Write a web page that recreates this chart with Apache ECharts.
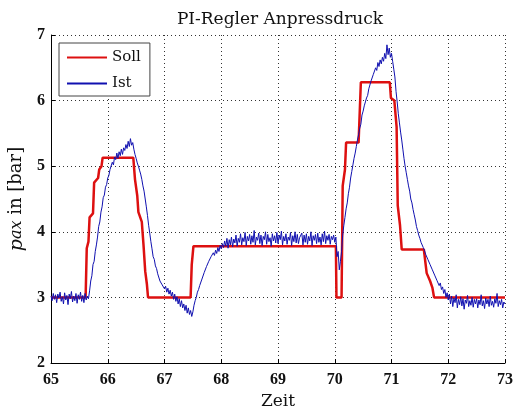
<!DOCTYPE html>
<html>
<head>
<meta charset="utf-8">
<script src="https://cdn.jsdelivr.net/npm/echarts@6/dist/echarts.min.js"></script>
<style>html,body{margin:0;padding:0;background:#fff;}#c{width:514px;height:406px;}</style>
</head>
<body>
<div id="c"></div>
<script>
// Axis ticks
const xTicks = [65, 66, 67, 68, 69, 70, 71, 72, 73];
const yTicks = [2, 3, 4, 5, 6, 7];

// Soll (set point) step curve: times and values
const sollTime = [65, 65.61, 65.63, 65.66, 65.68, 65.74, 65.76, 65.83, 65.85, 65.89, 65.91, 66.45, 66.48, 66.52, 66.54, 66.60, 66.63, 66.66, 66.69, 66.71, 67.46, 67.48, 67.51, 70.02, 70.03, 70.12, 70.14, 70.18, 70.20, 70.42, 70.46, 70.97, 70.99, 71.05, 71.09, 71.11, 71.15, 71.18, 71.57, 71.62, 71.68, 71.72, 71.75, 73];
const sollValue = [3.0, 3.0, 3.75, 3.85, 4.22, 4.28, 4.75, 4.82, 4.95, 5.0, 5.13, 5.13, 4.8, 4.55, 4.3, 4.15, 3.8, 3.4, 3.2, 3.0, 3.0, 3.5, 3.78, 3.78, 3.0, 3.0, 4.7, 4.95, 5.36, 5.36, 6.28, 6.28, 6.04, 6.0, 5.6, 4.4, 4.1, 3.73, 3.73, 3.37, 3.25, 3.15, 3.0, 3.0];

// Ist (measured) samples, every 0.02 s from 65.00 to 73.00
const istStart = 65;
const istStep = 0.02;
const istValue = [
3.02,2.95,3.06,2.97,3.04,2.92,3.05,2.99,3.08,2.94,3.01,2.90,3.07,2.96,3.03,2.89,3.05,2.98,3.09,2.93,3.02,2.95,3.06,2.91,3.04,
2.97,3.08,2.94,3.03,2.92,3.06,2.96,3.02,2.98,3.10,3.25,3.33,3.50,3.55,3.70,3.80,3.92,4.08,4.15,4.30,4.38,4.52,4.56,4.68,4.72,
4.82,4.86,4.95,4.98,5.06,5.02,5.14,5.10,5.20,5.12,5.22,5.16,5.26,5.18,5.28,5.24,5.33,5.27,5.38,5.30,5.42,5.32,5.36,5.26,5.18,
5.12,5.05,5.00,4.94,4.88,4.80,4.70,4.62,4.50,4.38,4.25,4.10,3.98,3.85,3.74,3.62,3.58,3.48,3.44,3.36,3.33,3.25,3.27,3.19,3.20,
3.13,3.17,3.08,3.14,3.05,3.11,3.02,3.08,2.97,3.05,2.94,3.01,2.90,2.98,2.86,2.95,2.84,2.90,2.80,2.88,2.76,2.84,2.74,2.80,2.71,
2.78,2.88,2.95,3.00,3.08,3.12,3.18,3.20,3.28,3.30,3.38,3.40,3.47,3.48,3.55,3.54,3.62,3.60,3.68,3.64,3.72,3.67,3.76,3.70,3.79,
3.74,3.82,3.76,3.86,3.78,3.90,3.75,3.88,3.80,3.92,3.77,3.89,3.83,3.95,3.78,3.90,3.84,3.97,3.80,3.91,3.85,3.99,3.79,3.93,3.86,
3.96,3.81,3.94,3.84,4.02,3.80,3.92,3.87,3.98,3.82,3.95,3.79,3.93,3.88,4.00,3.81,3.96,3.85,3.91,3.78,3.97,3.86,3.94,3.83,3.99,
3.82,3.95,3.88,4.01,3.80,3.93,3.86,3.97,3.81,3.92,3.87,3.99,3.79,3.94,3.85,4.00,3.83,3.96,3.82,3.91,3.88,3.98,3.80,3.95,3.84,
3.97,3.81,3.93,3.86,4.00,3.79,3.94,3.87,3.96,3.82,3.98,3.84,3.92,3.80,3.97,3.85,4.01,3.82,3.94,3.87,3.96,3.81,3.93,3.88,3.95,
3.84,3.92,3.62,3.70,3.42,3.55,3.70,3.95,4.10,4.22,4.35,4.44,4.58,4.68,4.82,4.92,5.02,5.12,5.20,5.30,5.40,5.48,5.58,5.64,5.78,
5.84,5.92,5.98,6.04,6.08,6.18,6.20,6.30,6.28,6.40,6.38,6.50,6.46,6.58,6.52,6.62,6.56,6.66,6.60,6.72,6.64,6.85,6.70,6.80,6.66,
6.72,6.60,6.48,6.36,6.14,5.98,5.80,5.66,5.52,5.40,5.26,5.12,5.00,4.90,4.80,4.70,4.62,4.50,4.44,4.34,4.26,4.18,4.08,4.02,3.95,
3.90,3.84,3.82,3.76,3.72,3.66,3.68,3.58,3.60,3.50,3.52,3.42,3.44,3.34,3.36,3.26,3.28,3.18,3.22,3.12,3.16,3.06,3.12,3.00,3.07,
2.96,3.05,2.90,3.02,2.86,2.99,2.92,3.04,2.84,2.97,2.89,3.01,2.87,2.98,2.82,2.96,2.91,3.03,2.86,2.95,2.88,3.00,2.85,2.97,2.90,
2.98,2.84,2.96,2.89,3.04,2.87,2.95,2.83,2.99,2.90,2.97,2.86,3.02,2.88,2.94,2.85,2.98,2.91,3.06,2.86,2.95,2.89,2.97,2.84,2.93,
2.90
];

const seriesNames = ['Soll', 'Ist'];
const titleText = 'PI-Regler Anpressdruck';
const xName = 'Zeit';

const sollData = sollTime.map((t, i) => [t, sollValue[i]]);
const istData = istValue.map((v, i) => [+(istStart + i * istStep).toFixed(2), v]);

const serif = '"Liberation Serif", "DejaVu Serif", serif';
const wide = '"DejaVu Serif", "Liberation Serif", serif';
const chart = echarts.init(document.getElementById('c'), null, {renderer: 'canvas'});
chart.setOption({
  animation: false,
  backgroundColor: '#ffffff',
  title: {
    text: titleText, left: 275, top: 6, textAlign: 'center',
    textStyle: {fontFamily: wide, fontSize: 17, fontWeight: 'normal', color: '#111'}
  },
  grid: {left: 51, right: 9, top: 35, bottom: 43, containLabel: false, outerBoundsMode: 'none'},
  legend: {
    data: seriesNames, orient: 'vertical', left: 59, top: 43,
    itemWidth: 40, itemHeight: 14, itemGap: 11,
    padding: [7, 9, 5, 7],
    borderColor: '#444', borderWidth: 1, backgroundColor: '#fff',
    itemStyle: {opacity: 0, borderWidth: 0},
    textStyle: {fontFamily: wide, fontSize: 15, color: '#111'}
  },
  xAxis: {
    type: 'value', min: xTicks[0], max: xTicks[xTicks.length - 1], interval: 1,
    name: xName, nameLocation: 'middle', nameGap: 28,
    nameTextStyle: {fontFamily: wide, fontSize: 17, color: '#111'},
    axisLine: {show: true, lineStyle: {color: '#000', width: 1}},
    axisTick: {show: true, inside: true, length: 4, lineStyle: {color: '#000'}},
    axisLabel: {fontFamily: serif, fontSize: 16, fontWeight: 'bold', color: '#111', margin: 9},
    splitLine: {show: true, lineStyle: {color: '#333', width: 1, type: [1, 3]}}
  },
  yAxis: {
    type: 'value', min: yTicks[0], max: yTicks[yTicks.length - 1], interval: 1,
    name: '{p|p}{s|ax} in [bar]', nameLocation: 'middle', nameGap: 24, nameRotate: 90,
    nameTextStyle: {
      fontFamily: wide, fontSize: 18, color: '#111',
      rich: {
        p: {fontFamily: wide, fontSize: 19, fontStyle: 'italic', color: '#111'},
        s: {fontFamily: wide, fontSize: 16, fontStyle: 'italic', color: '#111'}
      }
    },
    axisLine: {show: true, lineStyle: {color: '#000', width: 1}},
    axisTick: {show: true, inside: true, length: 4, lineStyle: {color: '#000'}},
    axisLabel: {fontFamily: serif, fontSize: 16, fontWeight: 'bold', color: '#111', margin: 6},
    splitLine: {show: true, lineStyle: {color: '#333', width: 1, type: [1, 3]}}
  },
  series: [
    {name: seriesNames[0], type: 'line', data: sollData, showSymbol: false, symbol: 'none',
     lineStyle: {color: '#dd1010', width: 2.5}, itemStyle: {color: '#dd1010'}, z: 2},
    {name: seriesNames[1], type: 'line', data: istData, showSymbol: false, symbol: 'none',
     lineStyle: {color: '#1010b0', width: 1}, itemStyle: {color: '#1010b0'}, z: 3}
  ]
});
</script>
</body>
</html>
